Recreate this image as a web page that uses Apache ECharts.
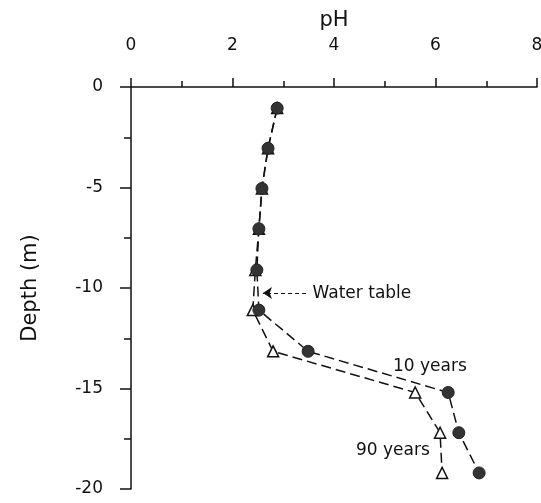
<!DOCTYPE html>
<html><head><meta charset="utf-8">
<script src="https://cdn.jsdelivr.net/npm/echarts@6/dist/echarts.min.js"></script>
<style>html,body{margin:0;padding:0;background:#fff}#c{width:541px;height:503px}</style>
</head><body><div id="c"></div>
<script>
var depth = [-1.05, -3.05, -5.05, -7.05, -9.1, -11.1, -13.15, -15.2, -17.2, -19.2];
var ph10 = [2.88, 2.70, 2.58, 2.52, 2.48, 2.52, 3.49, 6.25, 6.46, 6.86];
var ph90 = [2.88, 2.70, 2.58, 2.52, 2.45, 2.40, 2.80, 5.60, 6.09, 6.13];
var xTicks = [0, 2, 4, 6, 8];
var yTicks = [0, -5, -10, -15, -20];

function pairs(xs, ys) { return xs.map(function (v, i) { return [v, ys[i]]; }); }
var FONT = 'DejaVu Sans';
var dash = [10, 5];
var chart = echarts.init(document.getElementById('c'));
chart.setOption({
  animation: false,
  grid: { left: 131, right: 4, top: 87, bottom: 14, containLabel: false, outerBoundsMode: 'none' },
  xAxis: {
    type: 'value', position: 'top', min: 0, max: 8, interval: 2,
    name: 'pH', nameLocation: 'middle', nameGap: 56,
    nameTextStyle: { fontFamily: FONT, fontSize: 21, color: '#111' },
    axisLine: { show: true, onZero: false, lineStyle: { color: '#111', width: 1.5 } },
    axisTick: { show: true, length: 9, lineStyle: { color: '#111', width: 1.5 } },
    minorTick: { show: true, splitNumber: 2, length: 6, lineStyle: { color: '#111', width: 1.5 } },
    axisLabel: { margin: 33, fontFamily: FONT, fontSize: 17, color: '#111',
      formatter: function (v) { return xTicks.indexOf(v) >= 0 ? String(v) : ''; } },
    splitLine: { show: false }
  },
  yAxis: {
    type: 'value', min: -20, max: 0, interval: 5,
    name: 'Depth (m)', nameLocation: 'middle', nameGap: 90,
    nameTextStyle: { fontFamily: FONT, fontSize: 21, color: '#111' },
    axisLine: { show: true, onZero: false, lineStyle: { color: '#111', width: 1.5 } },
    axisTick: { show: true, length: 11, lineStyle: { color: '#111', width: 1.5 } },
    minorTick: { show: true, splitNumber: 2, length: 7, lineStyle: { color: '#111', width: 1.5 } },
    axisLabel: { margin: 28, fontFamily: FONT, fontSize: 17, color: '#111',
      formatter: function (v) { return yTicks.indexOf(v) >= 0 ? String(v) : ''; } },
    splitLine: { show: false }
  },
  series: [
    {
      name: '90 years', type: 'line', data: pairs(ph90, depth), z: 2,
      symbol: 'triangle', symbolSize: 11,
      itemStyle: { color: '#fff', borderColor: '#111', borderWidth: 1.5 },
      lineStyle: { color: '#111', width: 1.5, type: dash },
      markPoint: {
        symbol: 'circle', symbolSize: 1, itemStyle: { color: 'rgba(0,0,0,0)' },
        label: { show: true, position: 'inside', fontFamily: FONT, fontSize: 17, color: '#111',
          formatter: function (p) { return p.name; } },
        data: [{ name: '90 years', coord: [5.16, -18.1] }]
      }
    },
    {
      name: '10 years', type: 'line', data: pairs(ph10, depth), z: 3,
      symbol: 'circle', symbolSize: 12,
      itemStyle: { color: '#333', borderColor: '#222', borderWidth: 1 },
      lineStyle: { color: '#111', width: 1.5, type: dash },
      markPoint: {
        symbol: 'circle', symbolSize: 1, itemStyle: { color: 'rgba(0,0,0,0)' },
        label: { show: true, position: 'inside', fontFamily: FONT, fontSize: 17, color: '#111',
          formatter: function (p) { return p.name; } },
        data: [
          { name: '10 years', coord: [5.89, -13.93] },
          { name: 'Water table', coord: [4.55, -10.3] }
        ]
      },
      markLine: {
        silent: true, symbol: ['none', 'arrow'], symbolSize: 9,
        label: { show: false },
        lineStyle: { color: '#111', width: 1.2, type: [4, 3] },
        data: [[{ coord: [3.45, -10.25] }, { coord: [2.6, -10.25] }]]
      }
    }
  ]
});
</script></body></html>
